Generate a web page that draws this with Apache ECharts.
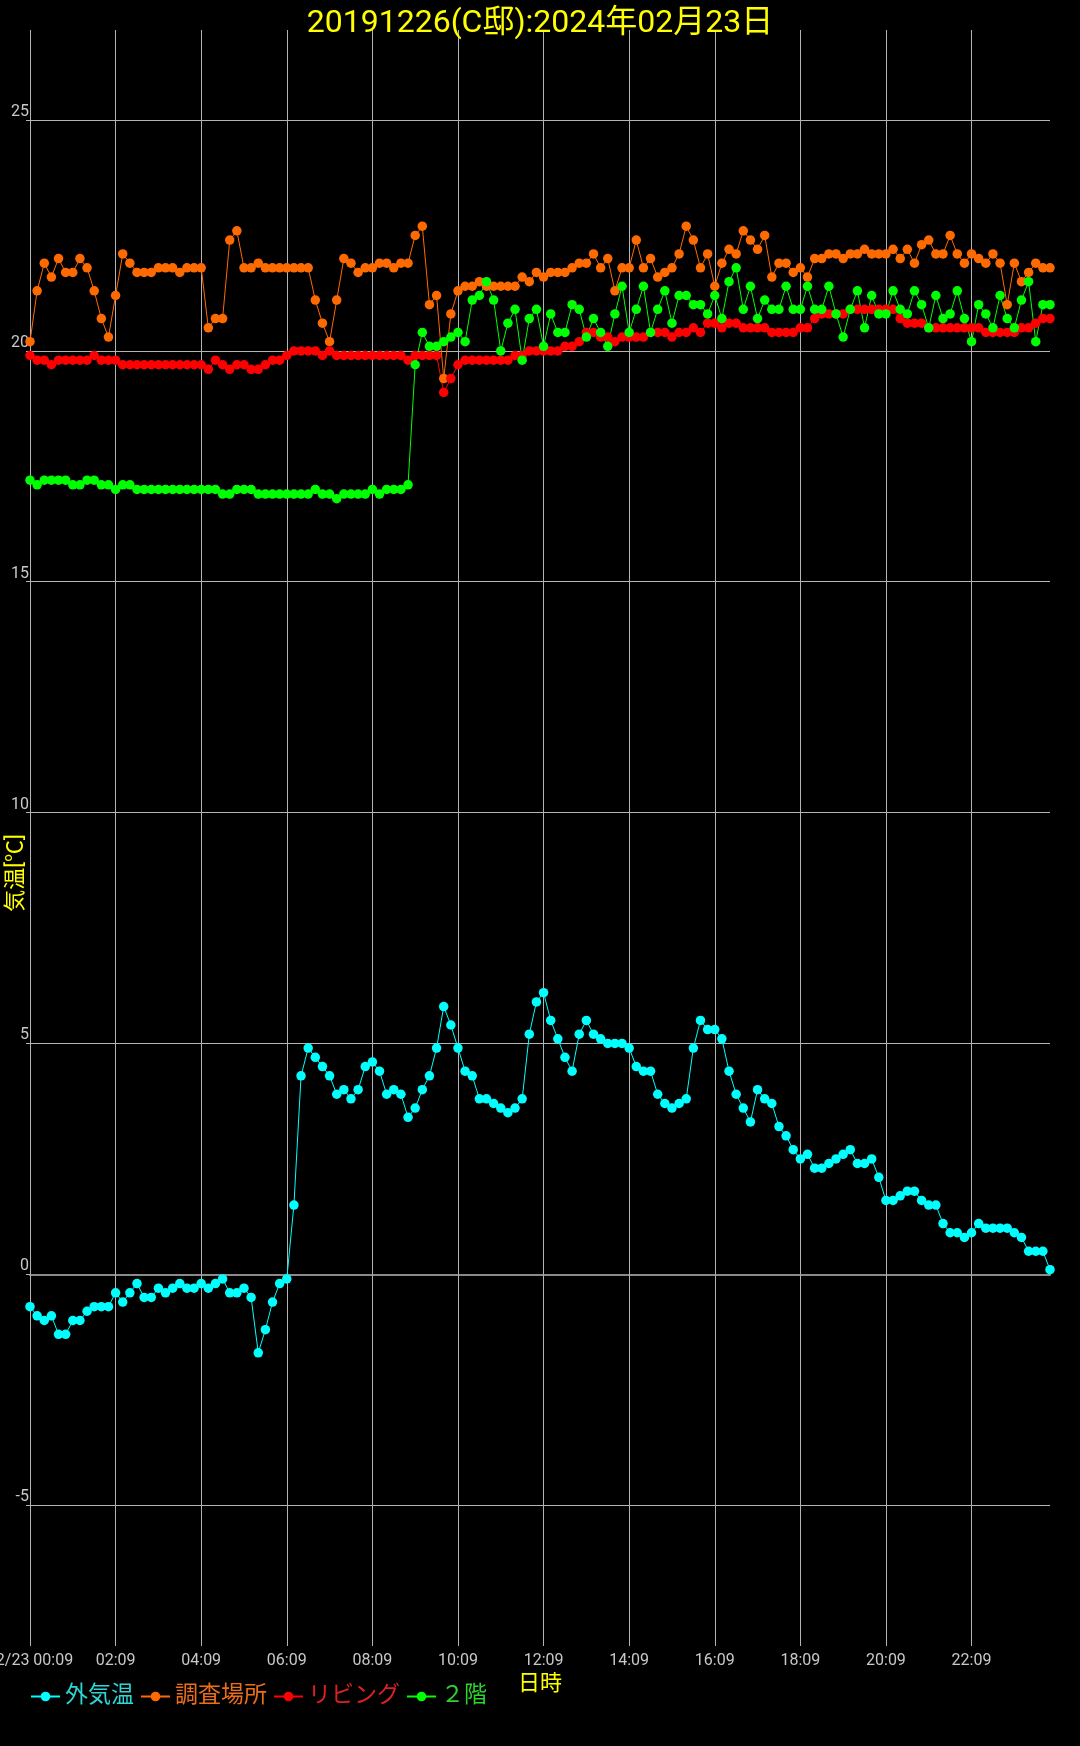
<!DOCTYPE html>
<html><head><meta charset="utf-8">
<script src="https://cdn.jsdelivr.net/npm/echarts@6/dist/echarts.min.js"></script>
<style>html,body{margin:0;padding:0;background:#000;} #c{width:1080px;height:1746px;}</style>
</head><body><div id="c"></div>
<script>
const titleText = '20191226(C邸):2024年02月23日';
const datePrefix = '02/23 ';
const xName = '日時';
const yName = '気温[℃]';
const seriesNames = ['外気温', '調査場所', 'リビング', '２階'];
const yTicks = [-5, 0, 5, 10, 15, 20, 25];
const times = [
'00:09','00:19','00:29','00:39','00:49','00:59','01:09','01:19','01:29','01:39','01:49','01:59',
'02:09','02:19','02:29','02:39','02:49','02:59','03:09','03:19','03:29','03:39','03:49','03:59',
'04:09','04:19','04:29','04:39','04:49','04:59','05:09','05:19','05:29','05:39','05:49','05:59',
'06:09','06:19','06:29','06:39','06:49','06:59','07:09','07:19','07:29','07:39','07:49','07:59',
'08:09','08:19','08:29','08:39','08:49','08:59','09:09','09:19','09:29','09:39','09:49','09:59',
'10:09','10:19','10:29','10:39','10:49','10:59','11:09','11:19','11:29','11:39','11:49','11:59',
'12:09','12:19','12:29','12:39','12:49','12:59','13:09','13:19','13:29','13:39','13:49','13:59',
'14:09','14:19','14:29','14:39','14:49','14:59','15:09','15:19','15:29','15:39','15:49','15:59',
'16:09','16:19','16:29','16:39','16:49','16:59','17:09','17:19','17:29','17:39','17:49','17:59',
'18:09','18:19','18:29','18:39','18:49','18:59','19:09','19:19','19:29','19:39','19:49','19:59',
'20:09','20:19','20:29','20:39','20:49','20:59','21:09','21:19','21:29','21:39','21:49','21:59',
'22:09','22:19','22:29','22:39','22:49','22:59','23:09','23:19','23:29','23:39','23:49','23:59'];
const outdoor = [
-0.7,-0.9,-1.0,-0.9,-1.3,-1.3,-1.0,-1.0,-0.8,-0.7,-0.7,-0.7,
-0.4,-0.6,-0.4,-0.2,-0.5,-0.5,-0.3,-0.4,-0.3,-0.2,-0.3,-0.3,
-0.2,-0.3,-0.2,-0.1,-0.4,-0.4,-0.3,-0.5,-1.7,-1.2,-0.6,-0.2,
-0.1,1.5,4.3,4.9,4.7,4.5,4.3,3.9,4.0,3.8,4.0,4.5,
4.6,4.4,3.9,4.0,3.9,3.4,3.6,4.0,4.3,4.9,5.8,5.4,
4.9,4.4,4.3,3.8,3.8,3.7,3.6,3.5,3.6,3.8,5.2,5.9,
6.1,5.5,5.1,4.7,4.4,5.2,5.5,5.2,5.1,5.0,5.0,5.0,
4.9,4.5,4.4,4.4,3.9,3.7,3.6,3.7,3.8,4.9,5.5,5.3,
5.3,5.1,4.4,3.9,3.6,3.3,4.0,3.8,3.7,3.2,3.0,2.7,
2.5,2.6,2.3,2.3,2.4,2.5,2.6,2.7,2.4,2.4,2.5,2.1,
1.6,1.6,1.7,1.8,1.8,1.6,1.5,1.5,1.1,0.9,0.9,0.8,
0.9,1.1,1.0,1.0,1.0,1.0,0.9,0.8,0.5,0.5,0.5,0.1];
const survey = [
20.2,21.3,21.9,21.6,22.0,21.7,21.7,22.0,21.8,21.3,20.7,20.3,
21.2,22.1,21.9,21.7,21.7,21.7,21.8,21.8,21.8,21.7,21.8,21.8,
21.8,20.5,20.7,20.7,22.4,22.6,21.8,21.8,21.9,21.8,21.8,21.8,
21.8,21.8,21.8,21.8,21.1,20.6,20.2,21.1,22.0,21.9,21.7,21.8,
21.8,21.9,21.9,21.8,21.9,21.9,22.5,22.7,21.0,21.2,19.4,20.8,
21.3,21.4,21.4,21.5,21.4,21.4,21.4,21.4,21.4,21.6,21.5,21.7,
21.6,21.7,21.7,21.7,21.8,21.9,21.9,22.1,21.8,22.0,21.3,21.8,
21.8,22.4,21.8,22.0,21.6,21.7,21.8,22.1,22.7,22.4,21.8,22.1,
21.4,21.9,22.2,22.1,22.6,22.4,22.2,22.5,21.6,21.9,21.9,21.7,
21.8,21.6,22.0,22.0,22.1,22.1,22.0,22.1,22.1,22.2,22.1,22.1,
22.1,22.2,22.0,22.2,21.9,22.3,22.4,22.1,22.1,22.5,22.1,21.9,
22.1,22.0,21.9,22.1,21.9,21.0,21.9,21.5,21.7,21.9,21.8,21.8];
const living = [
19.9,19.8,19.8,19.7,19.8,19.8,19.8,19.8,19.8,19.9,19.8,19.8,
19.8,19.7,19.7,19.7,19.7,19.7,19.7,19.7,19.7,19.7,19.7,19.7,
19.7,19.6,19.8,19.7,19.6,19.7,19.7,19.6,19.6,19.7,19.8,19.8,
19.9,20.0,20.0,20.0,20.0,19.9,20.0,19.9,19.9,19.9,19.9,19.9,
19.9,19.9,19.9,19.9,19.9,19.8,19.9,19.9,19.9,19.9,19.1,19.4,
19.7,19.8,19.8,19.8,19.8,19.8,19.8,19.8,19.9,19.9,20.0,20.0,
20.0,20.0,20.0,20.1,20.1,20.2,20.4,20.4,20.3,20.3,20.2,20.3,
20.3,20.3,20.3,20.4,20.4,20.4,20.3,20.4,20.4,20.5,20.4,20.6,
20.6,20.5,20.6,20.6,20.5,20.5,20.5,20.5,20.4,20.4,20.4,20.4,
20.5,20.5,20.7,20.8,20.8,20.8,20.8,20.9,20.9,20.9,20.9,20.9,
20.9,20.9,20.7,20.6,20.6,20.6,20.5,20.5,20.5,20.5,20.5,20.5,
20.5,20.5,20.4,20.4,20.4,20.4,20.4,20.5,20.5,20.6,20.7,20.7];
const floor2 = [
17.2,17.1,17.2,17.2,17.2,17.2,17.1,17.1,17.2,17.2,17.1,17.1,
17.0,17.1,17.1,17.0,17.0,17.0,17.0,17.0,17.0,17.0,17.0,17.0,
17.0,17.0,17.0,16.9,16.9,17.0,17.0,17.0,16.9,16.9,16.9,16.9,
16.9,16.9,16.9,16.9,17.0,16.9,16.9,16.8,16.9,16.9,16.9,16.9,
17.0,16.9,17.0,17.0,17.0,17.1,19.7,20.4,20.1,20.1,20.2,20.3,
20.4,20.2,21.1,21.2,21.5,21.1,20.0,20.6,20.9,19.8,20.7,20.9,
20.1,20.8,20.4,20.4,21.0,20.9,20.3,20.7,20.4,20.1,20.8,21.4,
20.4,20.9,21.4,20.4,20.9,21.3,20.6,21.2,21.2,21.0,21.0,20.8,
21.2,20.7,21.5,21.8,20.9,21.4,20.7,21.1,20.9,20.9,21.4,20.9,
20.9,21.4,20.9,20.9,21.4,20.8,20.3,20.9,21.3,20.5,21.2,20.8,
20.8,21.3,20.9,20.8,21.3,21.0,20.5,21.2,20.7,20.8,21.3,20.7,
20.2,21.0,20.8,20.5,21.2,20.7,20.5,21.1,21.5,20.2,21.0,21.0];

const FONT = 'Roboto, "Noto Sans CJK JP", sans-serif';
const colors = ['#00ffff', '#ff6a00', '#ff0000', '#00ff00'];
const legendTextColors = ['#2fd6d6', '#ec6e1c', '#d82222', '#2ed22e'];
const values = [outdoor, survey, living, floor2];
const GRID = '#b4b4b4';

const chart = echarts.init(document.getElementById('c'), null, {renderer: 'canvas'});
chart.setOption({
  backgroundColor: '#000',
  animation: false,
  title: {
    text: titleText, left: 'center', top: 8, padding: 0,
    textStyle: {color: '#ffff00', fontSize: 32, fontWeight: 'normal', fontFamily: FONT}
  },
  grid: {left: 30, right: 30, top: 30, bottom: 100, containLabel: false, outerBoundsMode: 'none'},
  legend: {
    left: 30, top: 1685, padding: 0, itemWidth: 29, itemHeight: 12, itemGap: 6,
    textStyle: {fontSize: 23, fontFamily: FONT},
    data: seriesNames.map((n, i) => ({name: n, textStyle: {color: legendTextColors[i]}}))
  },
  xAxis: {
    type: 'category', data: times, boundaryGap: false,
    name: xName, nameLocation: 'middle', nameGap: 23,
    nameTextStyle: {color: '#ffff00', fontSize: 22, fontFamily: FONT},
    axisLine: {show: true, lineStyle: {color: '#8a8a8a', width: 2}},
    axisTick: {show: true, interval: 11, length: 5, lineStyle: {color: GRID}},
    splitLine: {show: true, interval: 11, lineStyle: {color: GRID, width: 1}},
    axisLabel: {interval: 11, color: '#c8c8c8', fontSize: 16, margin: 7, fontFamily: FONT,
      formatter: (v, i) => (i === 0 ? datePrefix + v : v)}
  },
  yAxis: {
    type: 'value', min: -8.05, max: 26.95,
    axisLine: {show: false},
    axisTick: {show: true, length: 4, customValues: yTicks, lineStyle: {color: GRID}},
    splitLine: {show: true, lineStyle: {color: GRID, width: 1}},
    axisLabel: {customValues: yTicks, color: '#c8c8c8', fontSize: 16, margin: 1, fontFamily: FONT,
      verticalAlign: 'bottom'}
  },
  graphic: [{
    type: 'text', x: 16, y: 873, rotation: Math.PI / 2,
    style: {text: yName, fill: '#ffff00', fontSize: 22, fontFamily: FONT, align: 'center', verticalAlign: 'middle'}
  }],
  series: seriesNames.map((n, i) => ({
    name: n, type: 'line', data: values[i],
    symbol: 'circle', symbolSize: 9.5, showAllSymbol: true,
    itemStyle: {color: colors[i]},
    lineStyle: {color: colors[i], width: 1},
    emphasis: {disabled: true}
  }))
});
</script></body></html>
